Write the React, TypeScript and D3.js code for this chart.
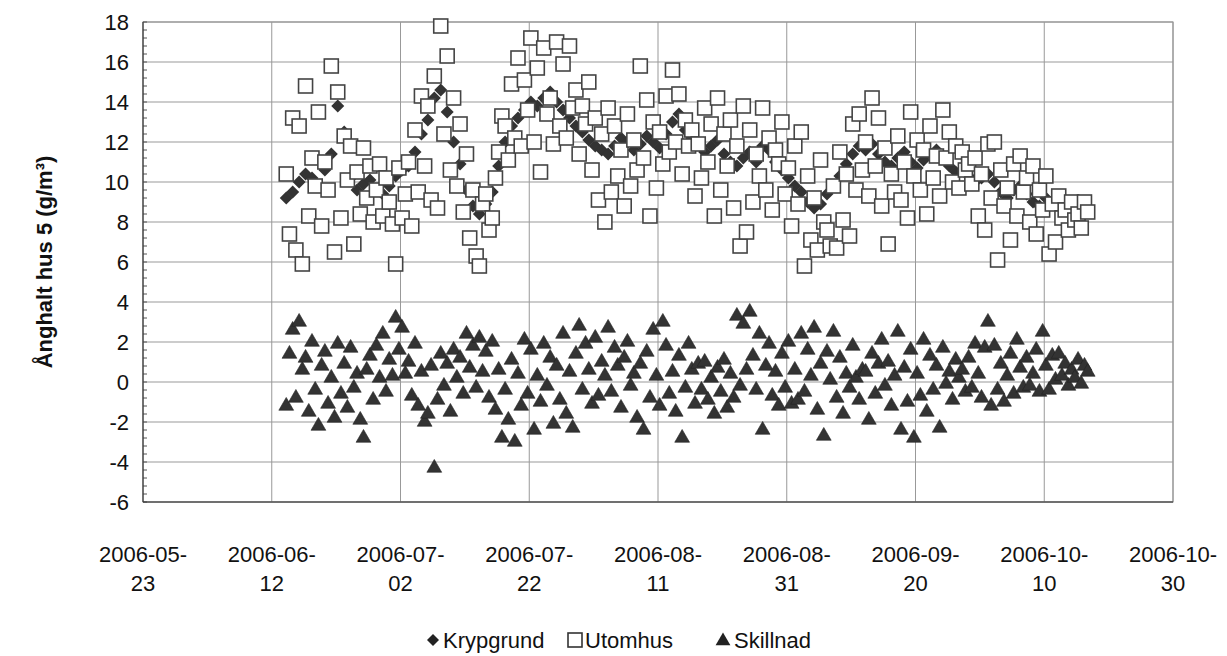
import React from "react";
import * as d3 from "d3";

const startDate = new Date(2006, 5, 14, 6);
const xTicks = ["2006-05-23","2006-06-12","2006-07-02","2006-07-22","2006-08-11","2006-08-31","2006-09-20","2006-10-10","2006-10-30"];
const yTicks = [-6,-4,-2,0,2,4,6,8,10,12,14,16,18];
const seriesNames = ["Krypgrund","Utomhus","Skillnad"];

const utomhus = [
10.4,7.4,13.2,6.6,12.8,5.9,14.8,8.3,11.2,9.8,
13.5,7.8,11.0,9.6,15.8,6.5,14.5,8.2,12.3,10.1,
11.8,6.9,10.5,8.4,11.7,9.2,10.8,8.0,9.6,10.9,
8.3,10.2,9.0,7.9,5.9,10.7,8.2,9.4,11.0,7.8,
12.6,9.5,14.3,10.8,13.8,9.1,15.3,8.7,17.8,12.4,
16.3,10.6,14.2,9.8,12.9,8.5,11.4,7.2,9.6,6.3,
5.8,8.9,9.4,7.6,8.2,10.2,11.5,13.3,12.8,11.1,
14.9,12.2,16.2,11.8,15.1,13.6,17.2,12.0,15.7,10.5,
16.7,13.4,14.2,11.9,17.0,12.8,15.9,12.2,16.8,13.7,
14.6,11.4,13.8,12.9,15.0,10.6,13.2,9.1,12.4,8.0,
13.7,9.5,12.8,10.3,11.6,8.8,13.4,9.8,12.1,10.6,
15.8,11.2,14.1,8.3,13.0,9.7,12.5,10.9,14.3,11.5,
15.6,12.0,14.4,10.4,13.1,11.8,12.6,9.3,11.9,10.2,
13.7,11.0,12.9,8.3,14.2,9.6,12.4,10.8,13.1,8.7,
11.8,6.8,13.8,7.5,12.6,9.0,11.4,10.3,13.7,9.6,
12.2,8.6,11.6,10.9,13.0,9.4,10.7,7.8,11.8,8.9,
12.5,5.8,10.3,7.1,9.2,6.6,11.1,8.0,7.6,6.8,
9.8,6.7,11.5,8.1,10.4,7.3,12.9,9.6,13.4,10.6,
12.0,9.3,14.2,10.8,13.2,8.8,11.7,6.9,10.4,9.5,
12.3,9.1,11.0,8.2,13.5,10.3,12.1,9.6,11.6,8.4,
12.8,10.2,11.3,9.3,13.6,11.2,12.5,10.0,11.8,9.7,
11.5,10.6,10.9,9.9,11.2,8.3,10.4,7.6,11.9,9.2,
12.0,6.1,10.6,8.8,9.7,7.1,10.9,8.3,11.3,9.5,
10.2,8.0,10.8,7.4,9.6,8.6,10.3,6.4,8.9,7.0,
9.3,8.2,8.6,7.6,9.0,8.1,8.4,7.7,9.0,8.5
];

const krypgrund = [
9.2,9.5,10.0,10.4,10.2,9.8,10.6,11.4,13.8,12.5,
10.2,9.6,9.9,10.1,9.6,9.4,9.8,10.3,10.6,10.8,
11.5,12.4,13.1,14.2,14.6,13.5,12.0,10.9,9.6,8.8,
8.4,8.9,9.5,10.8,12.0,12.8,13.2,13.6,14.0,13.8,
14.2,14.5,14.0,13.6,13.2,12.8,12.5,12.1,11.8,11.6,
11.4,11.8,12.2,12.0,11.6,11.9,12.3,12.0,11.7,12.4,
13.0,13.4,12.6,12.2,11.9,11.5,11.8,12.1,11.4,11.0,
10.8,11.2,11.5,11.0,11.8,11.6,11.0,10.6,10.2,9.8,
9.5,9.0,8.7,8.9,9.4,9.8,10.3,10.9,11.4,11.8,
11.6,11.9,11.4,11.0,10.8,11.2,11.5,11.0,10.7,11.1,
11.4,11.6,11.2,10.8,10.5,10.6,10.3,10.0,10.2,10.4,
10.0,9.5,9.2,9.6,9.8,9.4,9.0,8.8,9.2,8.9,
8.7,8.5,8.6,8.8,8.6
];

const skillnad = [
-1.2,1.4,2.6,-0.8,3.0,0.6,1.2,-1.5,2.0,-0.4,
-2.2,0.8,1.5,-1.1,0.2,-1.8,1.9,-0.6,0.9,-1.3,
1.7,-0.3,0.4,-1.9,-2.8,0.6,1.3,-0.9,1.8,0.2,
2.4,-0.5,1.1,0.3,3.2,1.6,2.7,0.4,1.0,-0.7,
1.9,-1.2,0.5,-2.0,-1.6,0.8,-4.3,-0.9,1.4,-0.2,
0.9,-1.5,1.6,0.2,1.2,-0.6,2.4,0.7,1.8,-0.3,
2.2,0.5,1.5,-0.8,2.0,-1.4,0.6,-2.8,-0.4,-1.9,
1.1,-3.0,0.4,-1.2,2.1,-0.6,1.6,-2.4,0.3,-1.0,
1.9,-0.2,1.2,-2.1,0.8,-0.9,2.4,-1.6,0.5,-2.3,
1.4,2.8,-0.4,1.9,0.6,-1.1,2.2,-0.7,1.0,0.3,
2.7,-0.5,1.7,0.8,-1.3,1.2,2.0,-0.2,0.4,-1.8,
0.9,-2.4,1.5,-0.8,2.6,0.3,-1.2,3.0,1.8,-0.6,
0.5,-1.5,1.3,-2.8,-0.3,1.9,0.6,-1.1,0.9,-0.4,
1.0,-0.9,0.2,-1.6,0.7,-0.5,1.1,-1.3,0.4,-0.8,
3.3,-0.2,2.9,0.6,3.5,1.3,-0.4,2.4,-2.4,0.8,
1.9,-0.7,0.5,-1.2,1.4,-0.3,2.0,-1.1,0.6,-0.9,
2.4,-0.5,1.6,0.3,2.7,-1.4,0.9,-2.7,1.5,0.1,
2.5,-0.8,1.2,-1.6,0.4,-0.3,1.8,0.2,-0.9,0.6,
0.5,-1.9,1.4,-0.6,0.9,2.1,-0.2,1.0,-1.2,0.3,
2.5,-2.4,0.7,-1.0,1.6,-2.8,0.4,-0.7,2.1,-1.5,
1.3,-0.4,0.8,-2.3,1.7,-0.1,0.5,-0.9,1.1,0.2,
0.6,-0.5,1.2,-0.3,1.9,0.4,-0.8,1.7,3.0,-1.2,
1.8,-0.4,0.9,-1.0,0.3,1.4,-0.6,2.1,0.7,-0.3,
1.2,-0.2,0.4,1.6,-0.5,2.5,0.8,-0.4,1.3,0.1,
1.4,0.3,0.9,-0.2,0.6,0.2,1.1,-0.1,0.8,0.5
];

const W = 1227, H = 656;
const L = 143, R = 1173, T = 22, B = 502;
const font = "'Liberation Sans', Arial, sans-serif";

function parse(s: string) { const [y, m, d] = s.split("-").map(Number); return new Date(y, m - 1, d); }
function at(i: number, hoursStep: number) { return new Date(startDate.getTime() + i * hoursStep * 3600000); }

export default function App() {
  const x = d3.scaleTime().domain([parse(xTicks[0]), parse(xTicks[xTicks.length - 1])]).range([L, R]);
  const y = d3.scaleLinear().domain([-6, 18]).range([B, T]);
  const tri = d3.symbol().type(d3.symbolTriangle).size(95)()!;
  const dia = "M0,-6.5L6.5,0L0,6.5L-6.5,0Z";
  const diaS = "M0,-6L6,0L0,6L-6,0Z";
  const minor = d3.range(-6, 18.01, 0.4);
  return (
    <svg width={W} height={H} style={{ position: "absolute", left: 0, top: 0, background: "#fff" }} fontFamily={font}>
      <rect x={L} y={T} width={R - L} height={B - T} fill="#fff" stroke="#888" />
      {yTicks.map(v => <line key={v} x1={L} x2={R} y1={y(v)} y2={y(v)} stroke="#999" strokeWidth={1} />)}
      {xTicks.map(t => <line key={t} x1={x(parse(t))} x2={x(parse(t))} y1={T} y2={B} stroke="#999" strokeWidth={1} />)}
      {minor.map((v, i) => <line key={i} x1={L} x2={L + 4} y1={y(v)} y2={y(v)} stroke="#555" />)}
      <line x1={L} x2={L} y1={T} y2={B} stroke="#333" />
      <line x1={L} x2={R} y1={B} y2={B} stroke="#333" />
      {yTicks.map(v => <text key={v} x={L - 14} y={y(v) + 8} textAnchor="end" fontSize={22} fill="#111">{v}</text>)}
      {xTicks.map(t => {
        const [a, b, c] = t.split("-");
        return <text key={t} x={x(parse(t))} y={562} textAnchor="middle" fontSize={22} fill="#111">
          <tspan x={x(parse(t))}>{`${a}-${b}-`}</tspan>
          <tspan x={x(parse(t))} dy={29}>{c}</tspan>
        </text>;
      })}
      <text transform={`translate(52,${(T + B) / 2}) rotate(-90)`} textAnchor="middle" fontSize={22} fontWeight="bold" fill="#111">Ånghalt hus 5 (g/m³)</text>
      {krypgrund.map((v, i) => <path key={"k" + i} d={dia} transform={`translate(${x(at(i, 24))},${y(v)})`} fill="#333" />)}
      {utomhus.map((v, i) => <rect key={"u" + i} x={x(at(i, 12)) - 7} y={y(v) - 7} width={14} height={14} fill="#fff" stroke="#444" strokeWidth={1.6} />)}
      {skillnad.map((v, i) => <path key={"s" + i} d={tri} transform={`translate(${x(at(i, 12))},${y(v)})`} fill="#333" stroke="#222" strokeWidth={0.6} />)}
      <g fontSize={22} fill="#111">
        <path d={diaS} transform="translate(433,640)" fill="#222" />
        <text x={443} y={648}>{seriesNames[0]}</text>
        <rect x={568} y={633} width={14} height={14} fill="none" stroke="#333" strokeWidth={1.6} />
        <text x={585} y={648}>{seriesNames[1]}</text>
        <path d={tri} transform="translate(723,641)" fill="#222" />
        <text x={734} y={648}>{seriesNames[2]}</text>
      </g>
    </svg>
  );
}
